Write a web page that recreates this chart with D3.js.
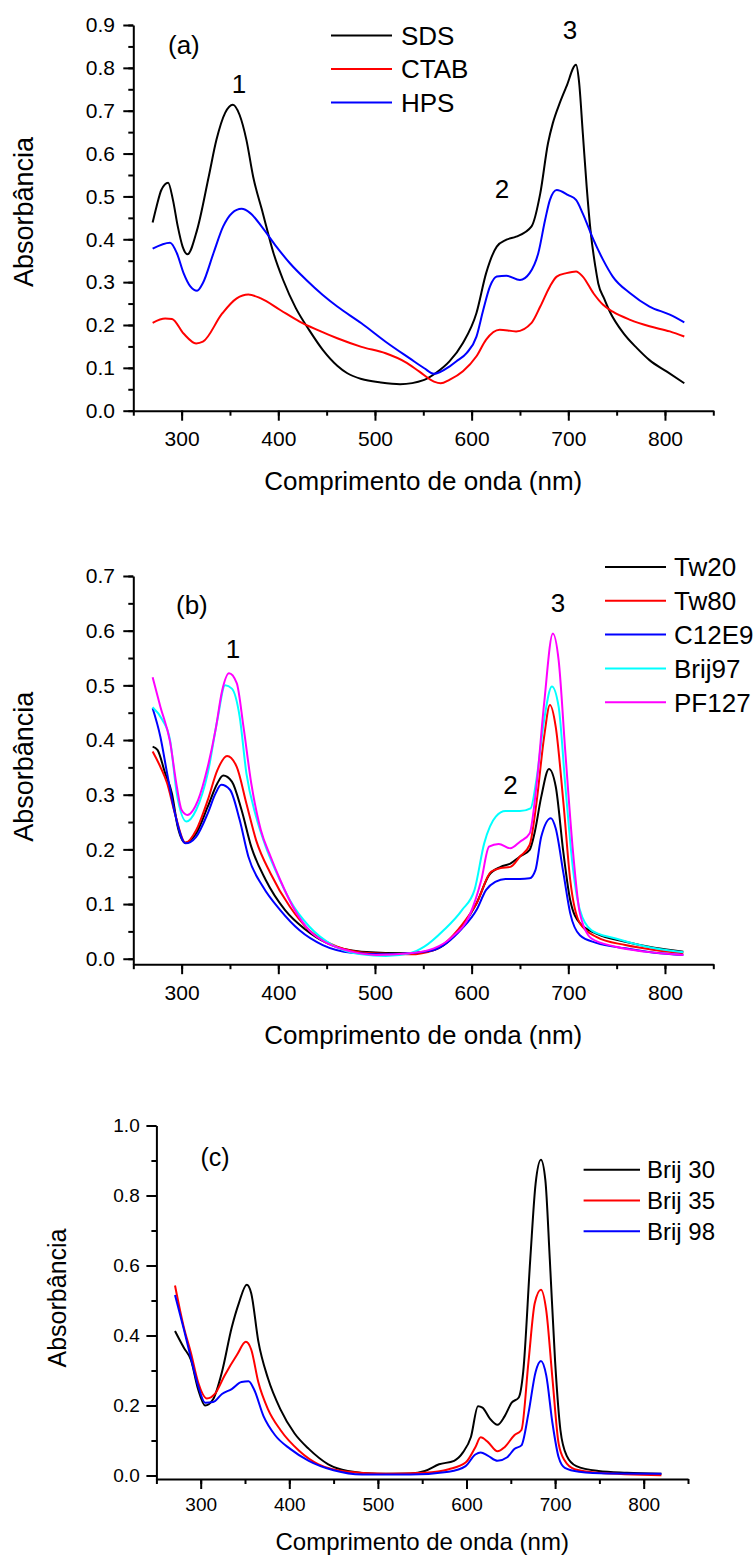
<!DOCTYPE html>
<html><head><meta charset="utf-8">
<script src="https://cdn.jsdelivr.net/npm/d3@7"></script>
<style>
body{margin:0;background:#fff}
svg{display:block}
text{font-family:"Liberation Sans",Arial,sans-serif;fill:#000}
</style>
</head><body>
<svg id="chart" width="756" height="1555"></svg>
<script>
// ---------- DATA ----------
const xTickLabels = [300, 400, 500, 600, 700, 800];
const yTickLabelsA = [0, 0.1, 0.2, 0.3, 0.4, 0.5, 0.6, 0.7, 0.8, 0.9];
const yTickLabelsB = [0, 0.1, 0.2, 0.3, 0.4, 0.5, 0.6, 0.7];
const yTickLabelsC = [0, 0.2, 0.4, 0.6, 0.8, 1.0];

// Panel (a)
const namesA = ["SDS", "CTAB", "HPS"];
const sdsA = [[270,0.439],[274,0.476],[279,0.515],[286,0.532],[291,0.492],[296,0.43],[301,0.383],[306,0.365],[316,0.422],[328,0.546],[336,0.632],[345,0.695],[353,0.714],[360,0.69],[367,0.632],[374,0.546],[384,0.461],[395,0.368],[405,0.305],[418,0.24],[432,0.188],[446,0.142],[461,0.105],[471,0.088],[486,0.074],[506,0.066],[526,0.062],[551,0.072],[563,0.088],[577,0.115],[591,0.158],[605,0.228],[615,0.321],[626,0.383],[636,0.399],[646,0.406],[662,0.43],[671,0.507],[679,0.624],[684,0.671],[691,0.717],[698,0.756],[708,0.807],[711,0.77],[715,0.648],[719,0.523],[723,0.42],[728,0.336],[731,0.297],[737,0.262],[743,0.231],[757,0.181],[771,0.146],[784,0.118],[802,0.091],[820,0.064]];
const ctabA = [[270,0.205],[283,0.215],[290,0.214],[302,0.18],[315,0.157],[322,0.161],[342,0.227],[357,0.262],[369,0.271],[382,0.262],[402,0.235],[422,0.208],[441,0.188],[461,0.169],[486,0.149],[511,0.134],[531,0.114],[546,0.091],[561,0.068],[568,0.064],[577,0.072],[591,0.092],[605,0.127],[615,0.166],[629,0.189],[646,0.185],[662,0.205],[671,0.243],[681,0.29],[688,0.313],[698,0.321],[708,0.325],[715,0.313],[726,0.274],[736,0.247],[746,0.231],[764,0.212],[784,0.197],[805,0.185],[820,0.173]];
const hpsA = [[270,0.378],[288,0.392],[295,0.368],[302,0.321],[309,0.29],[316,0.28],[322,0.298],[333,0.368],[343,0.43],[352,0.461],[362,0.471],[371,0.461],[384,0.426],[398,0.383],[412,0.344],[429,0.305],[446,0.27],[461,0.243],[486,0.204],[511,0.161],[536,0.122],[551,0.099],[561,0.086],[577,0.103],[584,0.115],[595,0.135],[605,0.173],[612,0.235],[619,0.29],[626,0.313],[636,0.315],[650,0.305],[660,0.321],[669,0.368],[676,0.445],[681,0.492],[688,0.515],[700,0.503],[708,0.492],[715,0.46],[726,0.399],[736,0.352],[746,0.313],[764,0.274],[784,0.243],[805,0.224],[820,0.206]];

// Panel (b)
const namesB = ["Tw20", "Tw80", "C12E9", "Brij97", "PF127"];
const tw20B = [[270,0.388],[275,0.382],[283,0.339],[290,0.302],[296,0.241],[304,0.212],[315,0.229],[327,0.278],[337,0.321],[343,0.335],[352,0.324],[362,0.272],[372,0.205],[387,0.144],[407,0.089],[427,0.055],[451,0.028],[486,0.013],[536,0.01],[561,0.016],[590,0.059],[605,0.101],[618,0.153],[630,0.168],[640,0.174],[650,0.187],[660,0.199],[665,0.229],[672,0.296],[680,0.347],[687,0.315],[695,0.193],[702,0.107],[712,0.065],[729,0.046],[759,0.031],[789,0.02],[819,0.013]];
const tw80B = [[270,0.379],[278,0.351],[285,0.321],[293,0.266],[304,0.212],[315,0.235],[327,0.29],[337,0.345],[347,0.371],[357,0.351],[367,0.284],[377,0.217],[392,0.156],[412,0.095],[432,0.052],[461,0.022],[496,0.01],[536,0.008],[561,0.016],[590,0.062],[605,0.101],[620,0.159],[630,0.166],[640,0.168],[650,0.187],[660,0.208],[667,0.284],[675,0.406],[681,0.464],[687,0.424],[695,0.284],[702,0.144],[712,0.065],[729,0.04],[759,0.025],[789,0.016],[819,0.01]];
const c12e9B = [[270,0.458],[278,0.406],[285,0.339],[293,0.266],[304,0.211],[315,0.223],[327,0.266],[335,0.302],[341,0.318],[350,0.309],[360,0.254],[369,0.187],[384,0.132],[402,0.089],[422,0.052],[446,0.025],[476,0.011],[511,0.008],[541,0.011],[561,0.016],[590,0.055],[605,0.089],[615,0.126],[625,0.141],[635,0.146],[650,0.146],[660,0.147],[666,0.162],[672,0.223],[682,0.257],[687,0.238],[695,0.156],[702,0.083],[712,0.043],[729,0.029],[759,0.019],[789,0.011],[819,0.007]];
const brij97B = [[270,0.46],[280,0.437],[288,0.4],[295,0.302],[305,0.251],[315,0.272],[327,0.339],[337,0.437],[345,0.5],[352,0.494],[360,0.443],[367,0.339],[377,0.26],[387,0.205],[397,0.162],[412,0.107],[432,0.059],[456,0.025],[486,0.008],[511,0.005],[536,0.01],[551,0.022],[571,0.052],[590,0.089],[603,0.126],[613,0.211],[625,0.26],[635,0.27],[650,0.27],[661,0.275],[667,0.327],[675,0.437],[683,0.498],[690,0.461],[697,0.315],[705,0.162],[712,0.089],[724,0.052],[749,0.037],[779,0.023],[819,0.012]];
const pf127B = [[270,0.515],[278,0.461],[288,0.397],[295,0.315],[300,0.272],[306,0.263],[317,0.29],[327,0.351],[335,0.418],[342,0.491],[349,0.522],[357,0.504],[364,0.424],[372,0.321],[382,0.235],[392,0.187],[402,0.144],[417,0.089],[432,0.052],[451,0.028],[476,0.013],[501,0.007],[536,0.01],[561,0.019],[580,0.04],[598,0.08],[610,0.144],[618,0.205],[628,0.21],[640,0.202],[650,0.214],[660,0.229],[667,0.315],[675,0.467],[684,0.595],[690,0.546],[697,0.376],[705,0.193],[712,0.083],[724,0.037],[749,0.022],[779,0.013],[819,0.007]];

// Panel (c)
const namesC = ["Brij 30", "Brij 35", "Brij 98"];
const brij30C = [[271,0.413],[281,0.365],[289,0.33],[297,0.247],[305,0.2],[314,0.218],[324,0.296],[335,0.423],[343,0.492],[352,0.545],[357,0.521],[365,0.384],[376,0.277],[390,0.189],[406,0.12],[422,0.076],[444,0.032],[466,0.013],[499,0.005],[537,0.006],[553,0.013],[569,0.032],[586,0.042],[596,0.066],[605,0.11],[613,0.198],[618,0.194],[626,0.164],[635,0.145],[643,0.169],[651,0.208],[659,0.223],[664,0.296],[672,0.619],[678,0.834],[684,0.902],[689,0.844],[694,0.619],[700,0.326],[706,0.13],[713,0.057],[724,0.027],[749,0.013],[781,0.008],[820,0.005]];
const brij35C = [[271,0.543],[281,0.423],[289,0.35],[297,0.267],[307,0.22],[316,0.233],[327,0.286],[341,0.345],[351,0.382],[357,0.36],[365,0.267],[376,0.189],[390,0.13],[411,0.071],[433,0.032],[466,0.011],[509,0.005],[553,0.008],[580,0.018],[599,0.037],[610,0.081],[616,0.109],[624,0.096],[635,0.069],[643,0.081],[654,0.115],[662,0.13],[670,0.326],[677,0.492],[684,0.531],[690,0.472],[697,0.277],[704,0.091],[711,0.042],[722,0.018],[749,0.008],[820,0.001]];
const brij98C = [[271,0.516],[281,0.418],[289,0.335],[297,0.257],[305,0.208],[314,0.21],[324,0.233],[335,0.247],[346,0.267],[354,0.269],[360,0.247],[371,0.169],[384,0.115],[401,0.076],[422,0.042],[450,0.015],[482,0.003],[537,0.003],[580,0.011],[599,0.027],[610,0.06],[616,0.066],[624,0.057],[635,0.042],[646,0.052],[654,0.076],[662,0.086],[670,0.179],[678,0.296],[684,0.327],[690,0.286],[697,0.15],[704,0.052],[711,0.022],[727,0.011],[760,0.006],[820,0.005]];

// ---------- DRAWING ----------
const svg = d3.select("#chart");
const FONT = '"Liberation Sans",Arial,sans-serif';

function panel(p) {
  const x = d3.scaleLinear().domain([250, 850]).range(p.xr);
  const y = d3.scaleLinear().domain(p.yd).range(p.yr);
  const g = svg.append("g");
  const y0 = y(p.yd[0]);

  g.append("g").attr("transform", `translate(0,${y0})`)
    .call(d3.axisBottom(x).tickValues(d3.range(250, 851, 50)).tickSize(p.minor).tickFormat(""))
    .call(s => s.select(".domain").remove());
  g.append("g").attr("transform", `translate(0,${y0})`)
    .call(d3.axisBottom(x).tickValues(xTickLabels).tickSize(p.major).tickSizeOuter(0)
      .tickPadding(p.xpad).tickFormat(d3.format("d")))
    .call(s => s.selectAll("text").style("font-size", p.tickFont + "px"));
  g.append("g").attr("transform", `translate(${p.xr[0]},0)`)
    .call(d3.axisLeft(y).tickValues(p.yMinor).tickSize(p.minor).tickFormat(""))
    .call(s => s.select(".domain").remove());
  g.append("g").attr("transform", `translate(${p.xr[0]},0)`)
    .call(d3.axisLeft(y).tickValues(p.yTicks).tickSize(p.major).tickSizeOuter(0)
      .tickPadding(p.ypad).tickFormat(d3.format(".1f")))
    .call(s => s.selectAll("text").style("font-size", p.tickFont + "px"));

  g.selectAll(".domain, .tick line").attr("stroke", "#000").attr("stroke-width", 2);
  g.selectAll(".tick text").attr("fill", "#000").style("font-family", FONT);

  const line = d3.line().x(d => x(d[0])).y(d => y(d[1])).curve(d3.curveMonotoneX);
  p.series.forEach((s, i) => {
    g.append("path").datum(s).attr("fill", "none").attr("stroke", p.colors[i])
      .attr("stroke-width", 2).attr("stroke-linejoin", "round").attr("d", line);
  });

  g.append("text").attr("x", (p.xr[0] + p.xr[1]) / 2).attr("y", p.xTitleY)
    .attr("text-anchor", "middle").style("font-size", p.titleFont + "px")
    .text("Comprimento de onda (nm)");
  g.append("text").attr("transform", `translate(${p.yTitleX},${p.yTitleY}) rotate(-90)`)
    .attr("text-anchor", "middle").style("font-size", p.yTitleFont + "px")
    .text("Absorbância");

  g.append("text").attr("x", p.letter[1]).attr("y", p.letter[2])
    .style("font-size", p.letterFont + "px").text(p.letter[0]);

  (p.peaks || []).forEach(pk => {
    g.append("text").attr("x", pk[1]).attr("y", pk[2]).attr("text-anchor", "middle")
      .style("font-size", p.letterFont + "px").text(pk[0]);
  });

  p.names.forEach((n, i) => {
    const ly = p.leg.y0 + i * p.leg.dy;
    g.append("line").attr("x1", p.leg.x1).attr("x2", p.leg.x2).attr("y1", ly).attr("y2", ly)
      .attr("stroke", p.colors[i]).attr("stroke-width", 2);
    g.append("text").attr("x", p.leg.tx).attr("y", ly + p.leg.font * 0.36)
      .style("font-size", p.leg.font + "px").text(n);
  });
}

panel({
  xr: [133.3, 713.3], yd: [0, 0.9], yr: [410.7, 25],
  yTicks: yTickLabelsA, yMinor: d3.range(0, 0.901, 0.05),
  major: 10, minor: 5, xpad: 10.4, ypad: 8.3, tickFont: 21,
  series: [sdsA, ctabA, hpsA], colors: ["#000000", "#ff0000", "#0000ff"], names: namesA,
  xTitleY: 490, titleFont: 26, yTitleX: 33, yTitleY: 212, yTitleFont: 27,
  letter: ["(a)", 168, 54], letterFont: 26,
  peaks: [["1", 239, 92.7], ["2", 502, 198.3], ["3", 570, 39]],
  leg: { x1: 331, x2: 392, tx: 401, y0: 35.5, dy: 33.5, font: 26 }
});

panel({
  xr: [133.3, 713.3], yd: [-0.01, 0.7], yr: [964.2, 576],
  yTicks: yTickLabelsB, yMinor: d3.range(0, 0.701, 0.05),
  major: 10, minor: 5, xpad: 10.9, ypad: 8.3, tickFont: 21,
  series: [tw20B, tw80B, c12e9B, brij97B, pf127B],
  colors: ["#000000", "#ff0000", "#0000ff", "#00ffff", "#ff00ff"], names: namesB,
  xTitleY: 1044, titleFont: 26, yTitleX: 33, yTitleY: 766.7, yTitleFont: 27,
  letter: ["(b)", 176, 613.5], letterFont: 26,
  peaks: [["1", 233, 658.3], ["2", 510.6, 794.3], ["3", 558, 611.7]],
  leg: { x1: 605, x2: 666, tx: 674, y0: 567, dy: 33.8, font: 26 }
});

panel({
  xr: [156.4, 688], yd: [-0.01, 1.0], yr: [1479, 1125.5],
  yTicks: yTickLabelsC, yMinor: d3.range(0, 1.001, 0.1),
  major: 10, minor: 5, xpad: 8.2, ypad: 6.7, tickFont: 19,
  series: [brij30C, brij35C, brij98C], colors: ["#000000", "#ff0000", "#0000ff"], names: namesC,
  xTitleY: 1550, titleFont: 24, yTitleX: 66, yTitleY: 1298, yTitleFont: 25,
  letter: ["(c)", 200.5, 1166], letterFont: 25,
  peaks: [],
  leg: { x1: 583.6, x2: 640, tx: 647, y0: 1169.7, dy: 30.8, font: 24 }
});
</script>
</body></html>
